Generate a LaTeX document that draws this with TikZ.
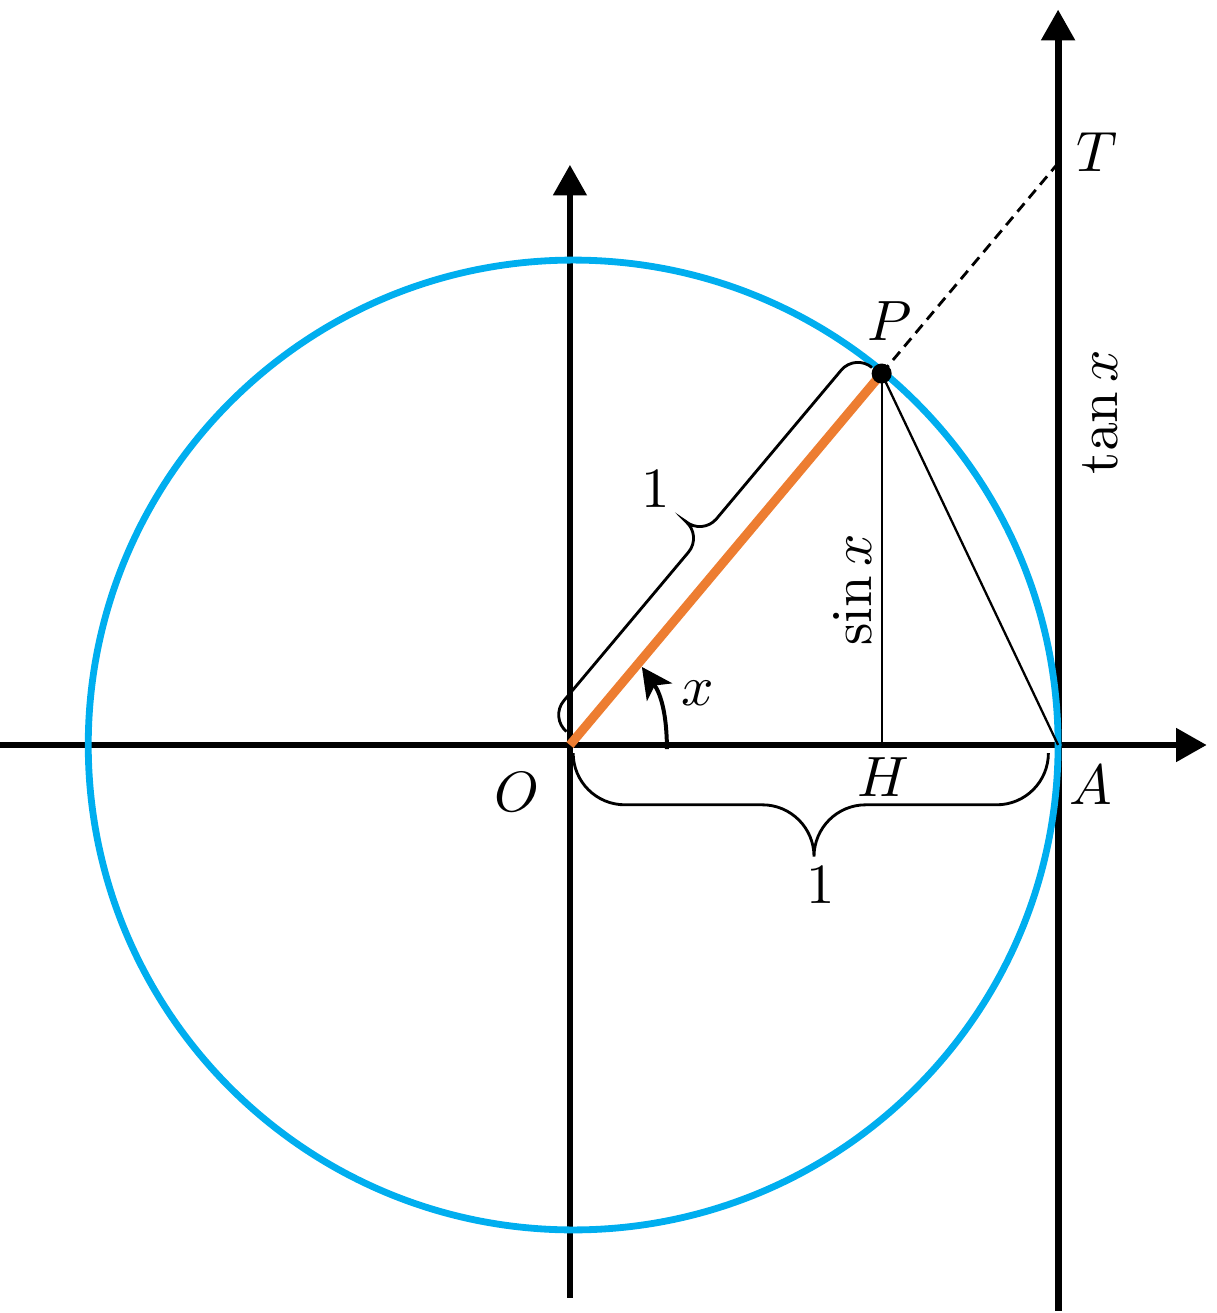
\documentclass[tikz,border=0pt]{standalone}
\usetikzlibrary{arrows.meta}
\definecolor{circblue}{RGB}{0,174,239}
\definecolor{segorange}{RGB}{237,125,49}
\begin{document}
\begin{tikzpicture}[
  axisline/.style={line width=1.2pt, -{Triangle[length=0.19cm,width=0.2cm]}},
  thinline/.style={line width=0.4pt},
  bracestyle/.style={line width=0.5pt},
  lbl/.style={inner sep=1pt}
]
\useasboundingbox (-3.526,-3.514) rectangle (4.002,4.609);
% points
\coordinate (O) at (0,0);
\coordinate (C) at (0.02,0);
\coordinate (A) at (3.02,0);
\coordinate (P) at (50:3);
\coordinate (H) at (P |- O);
\coordinate (T) at (3.02,{3.02*tan(50)});
\coordinate (xl) at (-3.53,0);
\coordinate (xr) at (3.94,0);
\coordinate (yb) at (0,-3.42);
\coordinate (yt) at (0,3.59);
\coordinate (tb) at (3.02,-3.50);
\coordinate (tt) at (3.02,4.55);
% axes
\draw[axisline] (xl) -- (xr);
\draw[axisline] (yb) -- (yt);
\draw[axisline] (tb) -- (tt);
% circle
\draw[circblue, line width=1.2pt] (C) circle (3);
% thin lines
\draw[thinline] (P) -- (H);
\draw[thinline] (P) -- (A);
\draw[line width=0.5pt, dash pattern=on 1.9pt off 1.2pt] (P) -- (T);
% angle arrow
\coordinate (as) at (0.6,-0.025);
\coordinate (ae) at (0.445,0.483);
\draw[line width=0.7pt, -{Stealth[length=0.19cm,width=0.19cm,inset=0.05cm]}] (as) to[out=90,in=-55] (ae);
% bottom brace
\draw[bracestyle] (0.02,-0.05) arc (180:270:0.32) -- (1.19,-0.37) arc (90:0:0.32)
  arc (180:90:0.32) -- (2.64,-0.37) arc (270:360:0.32);
% diagonal brace
\begin{scope}[rotate=50]
\draw[bracestyle] (0.05,0.07) arc (180:90:0.135) -- (1.385,0.205) arc (270:360:0.135)
  arc (180:270:0.135) -- (2.855,0.205) arc (90:0:0.135);
\end{scope}
% radius
\draw[segorange, line width=1.6pt] (O) -- (P);
\fill (P) circle (0.062);
% labels
\node[lbl] (Tl) at (3.26,3.67) {$T$};
\node[lbl] (Pl) at (1.98,2.62) {$P$};
\node[lbl] (Ol) at (-0.33,-0.29) {$O$};
\node[lbl] (Hl) at (1.94,-0.20) {$H$};
\node[lbl] (Al) at (3.22,-0.25) {$A$};
\node[lbl] (xlab) at (0.79,0.32) {$x$};
\node[lbl, rotate=90] (sinl) at (1.75,0.96) {$\sin x$};
\node[lbl, rotate=90] (tanl) at (3.28,2.06) {$\tan x$};
\node[lbl] (one1) at (0.53,1.58) {$1$};
\node[lbl] (one2) at (1.55,-0.87) {$1$};
\end{tikzpicture}
\end{document}
